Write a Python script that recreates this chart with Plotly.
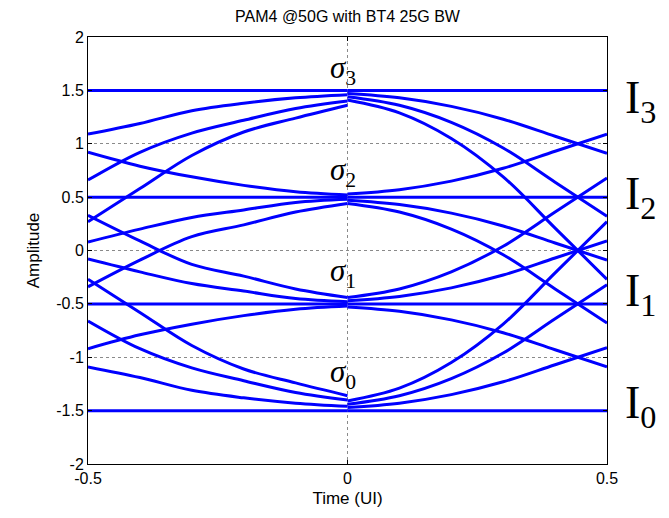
import plotly.graph_objects as go

# ---------------- data ----------------
levels = [-1.5, -0.5, 0.5, 1.5]
level_names = ["I<sub>0</sub>", "I<sub>1</sub>", "I<sub>2</sub>", "I<sub>3</sub>"]
level_label_y = [-1.46, -0.41, 0.50, 1.40]   # where each level label sits
sigma_names = ["<i>σ</i><sub>0</sub>", "<i>σ</i><sub>1</sub>", "<i>σ</i><sub>2</sub>", "<i>σ</i><sub>3</sub>"]
band_top = [-1.34, -0.40, 0.55, 1.50]   # top of the eye band at t = 0 for each level

x_ticks = [-0.5, 0, 0.5]
x_tick_text = ["-0.5", "0", "0.5"]
y_ticks = [-2, -1.5, -1, -0.5, 0, 0.5, 1, 1.5, 2]
y_tick_text = ["-2", "-1.5", "-1", "-0.5", "0", "0.5", "1", "1.5", "2"]

# time samples of the left half (previous symbol -> current symbol)
t_left = [-0.5, -0.4, -0.3, -0.2, -0.1, 0.0]
# time samples of the right half (current symbol -> next symbol)
t_right = [0.0, 0.1, 0.2, 0.3, 0.4, 0.5]

# left halves, arriving at each level
left_to_3 = [
    [1.50, 1.50, 1.50, 1.50, 1.50, 1.50],
    [1.09, 1.19, 1.31, 1.38, 1.43, 1.46],
    [0.66, 0.92, 1.10, 1.22, 1.33, 1.40],
    [0.27, 0.58, 0.89, 1.11, 1.24, 1.36],
]
left_to_2 = [
    [0.92, 0.79, 0.69, 0.61, 0.55, 0.52],
    [0.50, 0.50, 0.50, 0.50, 0.50, 0.50],
    [0.08, 0.20, 0.31, 0.38, 0.45, 0.48],
    [-0.34, -0.09, 0.13, 0.24, 0.36, 0.44],
]
left_to_1 = [
    [0.33, 0.09, -0.13, -0.24, -0.36, -0.44],
    [-0.08, -0.20, -0.31, -0.38, -0.45, -0.48],
    [-0.50, -0.50, -0.50, -0.50, -0.50, -0.50],
    [-0.92, -0.79, -0.69, -0.61, -0.55, -0.52],
]
left_to_0 = [
    [-0.27, -0.58, -0.89, -1.11, -1.24, -1.36],
    [-0.66, -0.92, -1.10, -1.22, -1.33, -1.40],
    [-1.09, -1.19, -1.31, -1.38, -1.43, -1.46],
    [-1.50, -1.50, -1.50, -1.50, -1.50, -1.50],
]

# right halves, leaving each level
right_from_3 = [
    [1.50, 1.50, 1.50, 1.50, 1.50, 1.50],
    [1.47, 1.43, 1.35, 1.23, 1.07, 0.91],
    [1.44, 1.36, 1.20, 0.96, 0.64, 0.32],
    [1.41, 1.29, 1.05, 0.69, 0.21, -0.27],
]
right_from_2 = [
    [0.53, 0.57, 0.65, 0.77, 0.93, 1.09],
    [0.50, 0.50, 0.50, 0.50, 0.50, 0.50],
    [0.47, 0.43, 0.35, 0.23, 0.07, -0.09],
    [0.44, 0.36, 0.20, -0.04, -0.36, -0.68],
]
right_from_1 = [
    [-0.44, -0.36, -0.20, 0.04, 0.36, 0.68],
    [-0.47, -0.43, -0.35, -0.23, -0.07, 0.09],
    [-0.50, -0.50, -0.50, -0.50, -0.50, -0.50],
    [-0.53, -0.57, -0.65, -0.77, -0.93, -1.09],
]
right_from_0 = [
    [-1.41, -1.29, -1.05, -0.69, -0.21, 0.27],
    [-1.44, -1.36, -1.20, -0.96, -0.64, -0.32],
    [-1.47, -1.43, -1.35, -1.23, -1.07, -0.91],
    [-1.50, -1.50, -1.50, -1.50, -1.50, -1.50],
]

# ---------------- figure ----------------
BLUE = "#0000FF"
SANS = "Liberation Sans, Arial, sans-serif"
SERIF = "Liberation Serif, Times New Roman, serif"
fig = go.Figure()

for group in (left_to_3, left_to_2, left_to_1, left_to_0):
    for ys in group:
        fig.add_trace(go.Scatter(x=t_left, y=ys, mode="lines",
                                 line=dict(color=BLUE, width=3, shape="spline", smoothing=1.0),
                                 showlegend=False, hoverinfo="skip"))
for group in (right_from_3, right_from_2, right_from_1, right_from_0):
    for ys in group:
        fig.add_trace(go.Scatter(x=t_right, y=ys, mode="lines",
                                 line=dict(color=BLUE, width=3, shape="spline", smoothing=1.0),
                                 showlegend=False, hoverinfo="skip"))

annotations = []
for name, yb in zip(sigma_names, band_top):
    annotations.append(dict(x=0, y=yb, xref="x", yref="y", text=name, showarrow=False,
                            xanchor="center", yanchor="bottom", xshift=-5, yshift=-2,
                            font=dict(family=SERIF, size=31, color="black")))
for name, ly in zip(level_names, level_label_y):
    annotations.append(dict(x=0.5, y=ly, xref="x", yref="y", text=name, showarrow=False,
                            xanchor="left", yanchor="middle", xshift=16, yshift=0,
                            font=dict(family=SERIF, size=46, color="black")))

axis_common = dict(showline=True, linecolor="black", linewidth=1, mirror="ticks",
                   ticks="inside", ticklen=4, tickcolor="black",
                   showgrid=True, gridcolor="#8a8a8a", griddash="dot", gridwidth=1,
                   zeroline=False,
                   tickfont=dict(family=SANS, size=16, color="black"))

# the page body adds an 8 px offset, so the figure is 8 px smaller than the window
fig.update_layout(
    width=661, height=510,
    margin=dict(l=80, r=62, t=29, b=54),
    paper_bgcolor="white", plot_bgcolor="white",
    title=dict(text="PAM4 @50G with BT4 25G BW", x=0.5, xref="paper", xanchor="center",
               y=0.984, yref="container", yanchor="middle",
               font=dict(family=SANS, size=16, color="black")),
    xaxis=dict(range=[-0.5, 0.5], tickvals=x_ticks, ticktext=x_tick_text,
               title=dict(text="Time (UI)", standoff=5, font=dict(family=SANS, size=17, color="black")),
               **axis_common),
    yaxis=dict(range=[-2, 2], tickvals=y_ticks, ticktext=y_tick_text,
               title=dict(text="Amplitude", standoff=12, font=dict(family=SANS, size=17, color="black")),
               **axis_common),
    annotations=annotations,
)

fig.write_html("out.html")
